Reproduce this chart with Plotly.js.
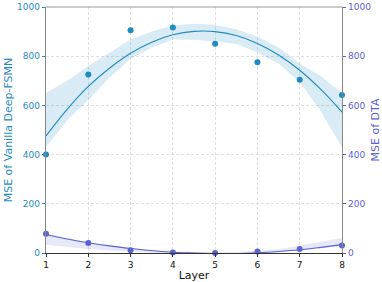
<!DOCTYPE html>
<html>
<head>
<meta charset="utf-8">
<script src="https://cdn.plot.ly/plotly-3.0.1.min.js"></script>
<style>html,body{margin:0;padding:0;background:#fff;}#chart{width:382px;height:282px;}</style>
</head>
<body>
<div id="chart"></div>
<script>
// Layers
const layers = [1, 2, 3, 4, 5, 6, 7, 8];
// Observed MSE values
const vanillaMSE = [400, 726, 905, 917, 851, 775, 704, 642];
const dtaMSE = [78, 41, 11, 2, 0, 6, 16, 30];
// Fitted curve and confidence band
const fitX = [1, 1.5, 2, 2.5, 3, 3.5, 4, 4.5, 5, 5.5, 6, 6.5, 7, 7.5, 8];
const vanillaFit = [476, 584, 677, 751, 812, 857, 887, 901, 900, 884, 852, 805, 743, 665, 573];
const vanillaUpper = [650, 700, 760, 815, 868, 900, 925, 932, 928, 910, 880, 835, 770, 718, 650];
const vanillaLower = [430, 540, 622, 712, 790, 835, 868, 867, 860, 850, 815, 770, 695, 575, 430];
const dtaFit = [74, 57, 42, 29, 18, 10, 3, 0, -2, -2, 1, 6, 13, 23, 34];
const dtaUpper = [80, 60, 43, 31, 20, 12, 6, 4, 4, 4, 9, 15, 30, 45, 61];
const dtaLower = [34, 24, 16, 10, 5, 1, -3, -5, -5, -5, -2, 3, 12, 20, 27];
// Axis ticks
const yTicks = [0, 200, 400, 600, 800, 1000];

const cV = '#1f8bc0', cD = '#5b63d0';
const bandV = 'rgba(31,139,192,0.17)', bandD = 'rgba(91,99,208,0.15)';

const traces = [
  {x: fitX, y: vanillaLower, mode: 'lines', line: {width: 0, color: bandV}, hoverinfo: 'skip', showlegend: false},
  {x: fitX, y: vanillaUpper, mode: 'lines', line: {width: 0, color: bandV}, fill: 'tonexty', fillcolor: bandV, hoverinfo: 'skip', showlegend: false},
  {x: fitX, y: dtaLower, yaxis: 'y2', mode: 'lines', line: {width: 0, color: bandD}, hoverinfo: 'skip', showlegend: false},
  {x: fitX, y: dtaUpper, yaxis: 'y2', mode: 'lines', line: {width: 0, color: bandD}, fill: 'tonexty', fillcolor: bandD, hoverinfo: 'skip', showlegend: false},
  {x: fitX, y: vanillaFit, mode: 'lines', line: {width: 1.1, color: cV, shape: 'spline'}, showlegend: false},
  {x: fitX, y: dtaFit, yaxis: 'y2', mode: 'lines', line: {width: 1.1, color: cD, shape: 'spline'}, showlegend: false},
  {x: layers, y: vanillaMSE, mode: 'markers', marker: {size: 6, color: cV}, cliponaxis: false, showlegend: false},
  {x: layers, y: dtaMSE, yaxis: 'y2', mode: 'markers', marker: {size: 6, color: cD}, cliponaxis: false, showlegend: false}
];

const font = {family: 'DejaVu Sans, sans-serif'};
const layout = {
  width: 382, height: 282,
  margin: {l: 46, r: 40, t: 7, b: 29},
  paper_bgcolor: '#fff', plot_bgcolor: '#fff',
  showlegend: false,
  font: font,
  xaxis: {
    range: [1, 8], tickvals: layers, ticktext: layers.map(String),
    showgrid: true, gridcolor: '#d8d8d8', griddash: '3px,2px', gridwidth: 0.8,
    zeroline: false, showline: true, linecolor: '#333', linewidth: 1.2, mirror: false,
    ticks: 'outside', ticklen: 3, tickcolor: '#333',
    tickfont: {family: 'DejaVu Sans, sans-serif', size: 9, color: '#111'},
    title: {text: 'Layer', font: {family: 'DejaVu Sans, sans-serif', size: 11, color: '#111'}, standoff: 3}
  },
  yaxis: {
    range: [0, 1000], tickvals: yTicks,
    showgrid: true, gridcolor: '#d8d8d8', griddash: '3px,2px', gridwidth: 0.8,
    zeroline: false, showline: true, linecolor: '#888', linewidth: 1.2,
    ticks: 'outside', ticklen: 3, tickcolor: cV,
    tickfont: {family: 'DejaVu Sans, sans-serif', size: 9, color: cV},
    title: {text: 'MSE of Vanilla Deep-FSMN', font: {family: 'DejaVu Sans, sans-serif', size: 11, color: cV}, standoff: 2}
  },
  yaxis2: {
    range: [0, 1000], tickvals: yTicks, overlaying: 'y', side: 'right',
    showgrid: false, zeroline: false, showline: true, linecolor: '#888', linewidth: 1.2,
    ticks: 'outside', ticklen: 3, tickcolor: cD,
    tickfont: {family: 'DejaVu Sans, sans-serif', size: 9, color: cD},
    title: {text: 'MSE of DTA', font: {family: 'DejaVu Sans, sans-serif', size: 11, color: cD}, standoff: 6}
  },
  shapes: [
    {type: 'line', xref: 'paper', yref: 'paper', x0: 0, x1: 1, y0: 1, y1: 1, line: {color: '#999', width: 1.2}}
  ]
};

Plotly.newPlot('chart', traces, layout, {displayModeBar: false, staticPlot: true});
</script>
</body>
</html>
